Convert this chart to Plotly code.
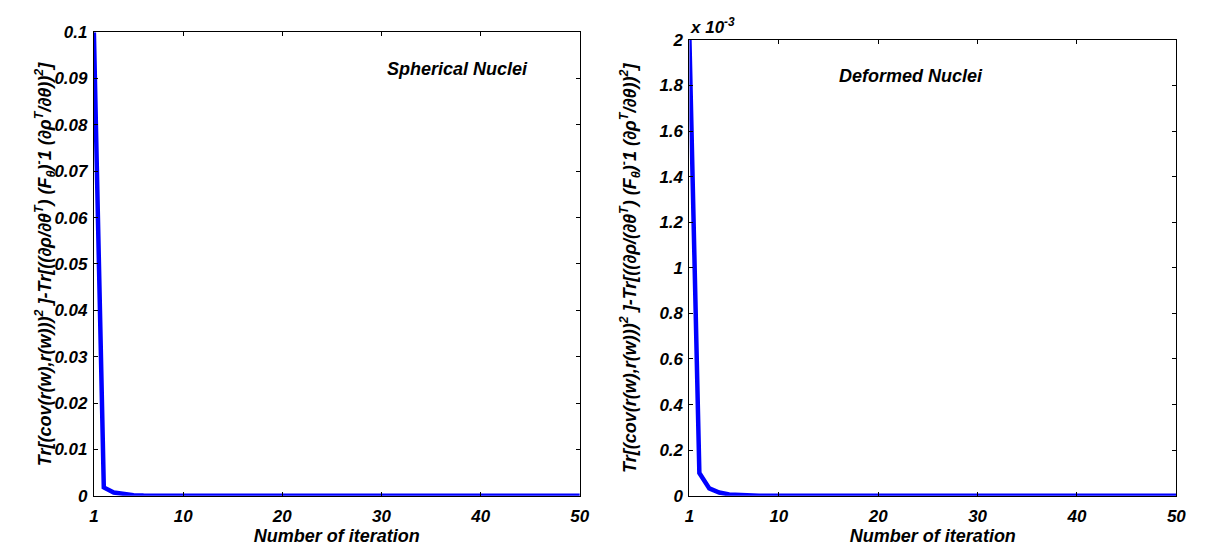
import plotly.graph_objects as go

# ---- data ----
iterations = list(range(1, 51))
spherical = [0.1, 0.0018, 0.0007, 0.0003, 0.00012, 0.00005, 0.00002, 0.0,
             0.0, 0.0, 0.0, 0.0, 0.0, 0.0, 0.0, 0.0, 0.0, 0.0, 0.0, 0.0,
             0.0, 0.0, 0.0, 0.0, 0.0, 0.0, 0.0, 0.0, 0.0, 0.0, 0.0, 0.0,
             0.0, 0.0, 0.0, 0.0, 0.0, 0.0, 0.0, 0.0, 0.0, 0.0, 0.0, 0.0,
             0.0, 0.0, 0.0, 0.0, 0.0, 0.0]
deformed = [0.0020, 0.000100, 0.000032, 0.000014, 0.000006, 0.000003, 0.000001, 0.0,
            0.0, 0.0, 0.0, 0.0, 0.0, 0.0, 0.0, 0.0, 0.0, 0.0, 0.0, 0.0,
            0.0, 0.0, 0.0, 0.0, 0.0, 0.0, 0.0, 0.0, 0.0, 0.0, 0.0, 0.0,
            0.0, 0.0, 0.0, 0.0, 0.0, 0.0, 0.0, 0.0, 0.0, 0.0, 0.0, 0.0,
            0.0, 0.0, 0.0, 0.0, 0.0, 0.0]

x_ticks = [1, 10, 20, 30, 40, 50]
x_ticktext = ["1", "10", "20", "30", "40", "50"]
left_yticks = [0, 0.01, 0.02, 0.03, 0.04, 0.05, 0.06, 0.07, 0.08, 0.09, 0.1]
left_yticktext = ["0", "0.01", "0.02", "0.03", "0.04", "0.05", "0.06", "0.07", "0.08", "0.09", "0.1"]
right_yticks = [0, 0.0002, 0.0004, 0.0006, 0.0008, 0.0010, 0.0012, 0.0014, 0.0016, 0.0018, 0.0020]
right_yticktext = ["0", "0.2", "0.4", "0.6", "0.8", "1", "1.2", "1.4", "1.6", "1.8", "2"]

left_label = "Spherical Nuclei"
right_label = "Deformed Nuclei"
x_title = "Number of iteration"
exponent_label = "x 10<sup>-3</sup>"
y_title_left = ("Tr[(cov(r(w),r(w)))<sup>2</sup> ]-Tr[((∂ρ/∂θ<sup>T</sup>) (F<sub>θ</sub>)<sup>-</sup>1 "
                "(∂ρ<sup>T</sup>/∂θ))<sup>2</sup>]")
y_title_right = ("Tr[(cov(r(w),r(w)))<sup>2</sup> ]-Tr[((∂ρ/(∂θ<sup>T</sup>) (F<sub>θ</sub>)<sup>-</sup>1 "
                 "(∂ρ<sup>T</sup>/∂θ))<sup>2</sup>]")

W, H = 1213, 555
FAM = "Liberation Sans"
BLUE = "#0000FF"


def bi(size):
    return dict(family=FAM, size=size, color="black", weight="bold", style="italic")


def px_x(p):
    return p / W


def px_y(p):
    return 1 - p / H


fig = go.Figure()
fig.add_trace(go.Scatter(x=iterations, y=spherical, mode="lines",
                         line=dict(color=BLUE, width=4.5), xaxis="x", yaxis="y",
                         showlegend=False))
fig.add_trace(go.Scatter(x=iterations, y=deformed, mode="lines",
                         line=dict(color=BLUE, width=4.5), xaxis="x2", yaxis="y2",
                         showlegend=False))

common_axis = dict(showline=True, linecolor="black", linewidth=1, mirror="ticks",
                   ticks="inside", ticklen=4, tickcolor="black", showgrid=False,
                   zeroline=False, tickfont=bi(17))

fig.update_layout(
    width=W, height=H,
    margin=dict(l=0, r=0, t=0, b=0),
    paper_bgcolor="white", plot_bgcolor="white",
    font=dict(family=FAM, color="black"),
    xaxis=dict(domain=[px_x(90), px_x(582)], range=[1, 50], tickvals=x_ticks,
               ticktext=x_ticktext, anchor="y", ticklabelstandoff=5,
               title=dict(text=x_title, font=bi(18), standoff=2),
               **common_axis),
    yaxis=dict(domain=[px_y(504), px_y(24)], range=[0, 0.1], tickvals=left_yticks,
               ticktext=left_yticktext, anchor="x", ticklabelstandoff=2,
               **common_axis),
    xaxis2=dict(domain=[px_x(693), px_x(1186)], range=[1, 50], tickvals=x_ticks,
                ticktext=x_ticktext, anchor="y2", ticklabelstandoff=5,
                title=dict(text=x_title, font=bi(18), standoff=2),
                **common_axis),
    yaxis2=dict(domain=[px_y(504), px_y(32)], range=[0, 0.002], tickvals=right_yticks,
                ticktext=right_yticktext, anchor="x2", ticklabelstandoff=2,
                **common_axis),
)

fig.add_annotation(text=left_label, xref="paper", yref="paper",
                   x=px_x(385), y=px_y(50), showarrow=False, font=bi(18))
fig.add_annotation(text=right_label, xref="paper", yref="paper",
                   x=px_x(992), y=px_y(57), showarrow=False, font=bi(18))
fig.add_annotation(text=exponent_label, xref="paper", yref="paper",
                   x=px_x(692), y=px_y(31), xanchor="left", yanchor="bottom",
                   showarrow=False, font=bi(17))
fig.add_annotation(text=y_title_left, xref="paper", yref="paper",
                   x=px_x(26), y=px_y(264), textangle=-90, showarrow=False,
                   font=bi(18))
fig.add_annotation(text=y_title_right, xref="paper", yref="paper",
                   x=px_x(633), y=px_y(268), textangle=-90, showarrow=False,
                   font=bi(18))

fig.write_html("out.html")
